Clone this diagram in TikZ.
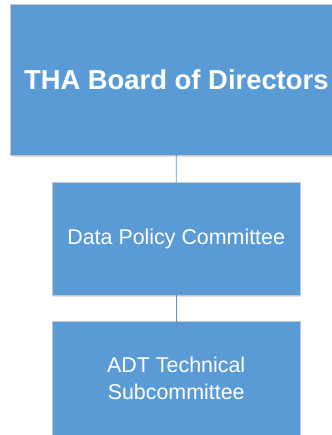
\documentclass[tikz,border=0pt]{standalone}
\usepackage{fontspec}
\setmainfont{Liberation Sans}
\usetikzlibrary{shadows}
\definecolor{boxblue}{HTML}{5B9BD5}
\definecolor{boxedge}{HTML}{C4C8CC}
\definecolor{linkblue}{HTML}{5692CB}
\begin{document}
\begin{tikzpicture}[x=1pt,y=-1pt,
  orgbox/.style={draw=boxedge, line width=0.8pt, fill=boxblue, text=white,
    inner sep=0pt, outer sep=0pt, align=center,
    drop shadow={shadow xshift=1pt, shadow yshift=-2pt, opacity=0.12, fill=black}},
  link/.style={draw=linkblue, line width=0.9pt}]
\useasboundingbox (0,0) rectangle (331,435);
\node[orgbox, minimum width=331.5pt, minimum height=150.7pt,
  font=\fontsize{27.4}{32}\selectfont\bfseries] (board) at (176.3,79.7) {THA Board of Directors};
\node[orgbox, minimum width=248.3pt, minimum height=113pt,
  font=\fontsize{21.4}{26.3}\selectfont] (dpc) at (176.2,238.8) {Data Policy Committee};
\node[orgbox, minimum width=248.3pt, minimum height=118pt,
  label={[font=\fontsize{21.4}{26.3}\selectfont, text=white, align=center, inner sep=0pt, yshift=2.5pt]center:ADT Technical\\Subcommittee}] (adt) at (176.2,380.7) {};
\draw[link] (board.south) -- (dpc.north);
\draw[link] (dpc.south) -- (adt.north);
\end{tikzpicture}
\end{document}
